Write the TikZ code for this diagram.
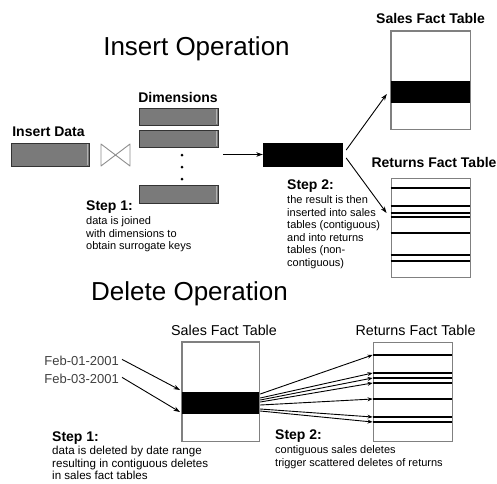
\documentclass[tikz,border=0pt]{standalone}
\usepackage{fontspec}
\setmainfont{Liberation Sans}
\usetikzlibrary{arrows.meta}

\begin{document}
\begin{tikzpicture}[x=1pt,y=-1pt,
  title/.style={font=\fontsize{26}{30}\selectfont, inner sep=0pt},
  head/.style={font=\bfseries\fontsize{14}{16}\selectfont, inner sep=0pt},
  headreg/.style={font=\fontsize{14.3}{16}\selectfont, inner sep=0pt},
  steplabel/.style={font=\bfseries\fontsize{14}{16}\selectfont, inner sep=0pt, anchor=base west},
  % multi-line notes: the base anchor sits on the baseline of the last line
  note/.style={font=\fontsize{11}{12.5}\selectfont, inner sep=0pt, anchor=base west, align=left},
  datelabel/.style={font=\fontsize{13}{15}\selectfont, text=black!75, inner sep=0pt, anchor=base east},
  graybar/.style={draw=black!80, line width=0.8pt, fill=black!52, minimum width=78pt, inner sep=0pt},
  blackbox/.style={fill=black, draw=black, minimum width=79pt, minimum height=23pt, inner sep=0pt},
  facttable/.style={draw=black!50, line width=0.9pt, fill=white, minimum width=79pt, minimum height=99pt, inner sep=0pt},
  band/.style={fill=black, draw=none, minimum width=79pt, minimum height=22pt, inner sep=0pt},
  rowline/.style={line width=2pt, black},
  arr/.style={-{Stealth[length=6.5pt,width=4.5pt]}, line width=0.9pt},
  sarr/.style={-{Stealth[length=5pt,width=4pt]}, line width=0.9pt}
]
\useasboundingbox (0,0) rectangle (497,483);

% ---------------- Insert operation ----------------
\node[title, anchor=base] (tins) at (196.5,55) {Insert Operation};

\node[head, anchor=base] (hdata) at (48.5,136) {Insert Data};
\node[graybar, minimum height=23pt] (idata) at (50,154.5) {};

% join symbol (bow tie)
\coordinate (bow) at (115.5,155);
\draw[black!45, line width=0.9pt, line join=round]
  (bow) -- (101,144) -- (101,166) -- cycle
  (bow) -- (130,144) -- (130,166) -- cycle;

\node[head, anchor=base] (hdim) at (178,102) {Dimensions};
\node[graybar, minimum width=79pt, minimum height=17pt] (dim1) at (178.5,116.5) {};
\node[graybar, minimum width=79pt, minimum height=17pt] (dim2) at (178.5,138.5) {};
\node[graybar, minimum width=79pt, minimum height=18pt] (dim3) at (178.5,194) {};
\foreach \b in {idata,dim1,dim2,dim3}
  \draw[black!30, line width=0.9pt] ([shift={(-1.6,1.2)}]\b.north east) -- ([shift={(-1.6,-1.2)}]\b.south east);
\foreach \yy in {155,167,179}
  \fill (182,\yy) circle (1.5pt);

\node[blackbox] (res) at (302.5,154.5) {};
\coordinate (joinout) at (223,154.5);
\draw[arr] (joinout) -- (res.west);

\node[steplabel] (s1) at (86,210) {Step 1:};
\node[note] (s1t) at (86,249.5) {data is joined\\with dimensions to\\obtain surrogate keys};

% sales fact table (insert)
\node[head, anchor=base] (hsales) at (430.5,23) {Sales Fact Table};
\node[facttable, minimum height=98pt] (sales) at (430.5,80) {};
\node[band] (sband) at (430.5,92) {};
\draw[black!50, line width=0.9pt] (sales.north west) rectangle (sales.south east);

% returns fact table (insert)
\node[head, anchor=base] (hret) at (434,167) {Returns Fact Table};
\node[facttable] (ret) at (430.5,227.5) {};
\foreach \yy/\nm in {188/r1,206/r2,213/r3,217/r4,233/r5,255/r6,261/r7}
  \draw[rowline] (ret.west |- 0,\yy) coordinate (\nm) -- (ret.east |- 0,\yy);

\draw[arr] ([shift={(4,-4.5)}]res.east) -- ([shift={(-4,2)}]sband.west);
\draw[arr] ([shift={(4,3.5)}]res.east) -- ([shift={(-4,0)}]r3);

\node[steplabel] (s2) at (287,189) {Step 2:};
\node[note] (s2t) at (287,266) {the result is then\\inserted into sales\\tables (contiguous)\\and into returns\\tables (non-\\contiguous)};

% ---------------- Delete operation ----------------
\node[title, anchor=base] (tdel) at (189.5,300) {Delete Operation};

\node[headreg, anchor=base] (hdsales) at (224,335) {Sales Fact Table};
\node[facttable, minimum width=77pt] (dsales) at (220.5,391.5) {};
\node[band, minimum width=77pt] (dband) at (220.5,403) {};
\draw[black!50, line width=0.9pt] (dsales.north west) rectangle (dsales.south east);

\node[headreg, anchor=base] (hdret) at (415.5,335) {Returns Fact Table};
\node[facttable] (dret) at (412.5,391.5) {};
\foreach \yy/\nm in {355/d1,373/d2,378/d3,383/d4,399/d5,417/d6,422/d7}
  \draw[rowline] (dret.west |- 0,\yy) coordinate (\nm) -- (dret.east |- 0,\yy);

% fan of deletes from the sales band into the returns rows
\foreach \sy/\nm in {-9/d1,-5/d2,-3/d3,-1/d4,2/d5,6/d6,8/d7}
  \draw[sarr] ([shift={(1,\sy)}]dband.east) -- (\nm);

\node[datelabel] (feb1) at (119,365) {Feb-01-2001};
\node[datelabel] (feb3) at (119,383) {Feb-03-2001};
\coordinate (feb1end) at (180,390);
\coordinate (feb3end) at (180,412);
\draw[arr] ([shift={(3,-1)}]feb1.east) -- (feb1end);
\draw[arr] ([shift={(3,-1)}]feb3.east) -- (feb3end);

\node[steplabel] (ds1) at (52,441.5) {Step 1:};
\node[note, font=\fontsize{11.6}{12.5}\selectfont] (ds1t) at (52,479.5) {data is deleted by date range\\resulting in contiguous deletes\\in sales fact tables};

\node[steplabel] (ds2) at (275,439) {Step 2:};
\node[note, font=\fontsize{11}{13}\selectfont] (ds2t) at (275,466) {contiguous sales deletes\\trigger scattered deletes of returns};
\end{tikzpicture}
\end{document}
